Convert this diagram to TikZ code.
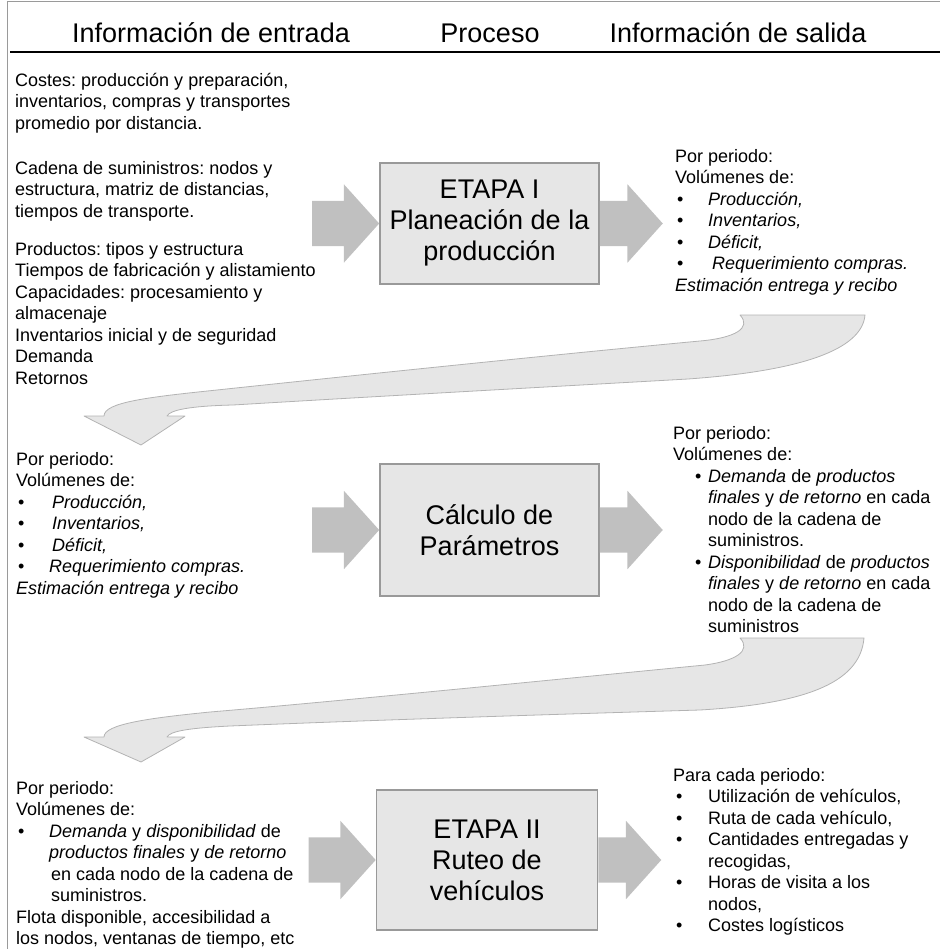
\documentclass[tikz,border=0pt]{standalone}
\usepackage{fontspec}
\setmainfont{Liberation Sans}
\usetikzlibrary{shapes.arrows}

\definecolor{boxfill}{HTML}{E6E6E6}
\definecolor{boxline}{HTML}{999999}
\definecolor{arrowfill}{HTML}{C0C0C0}
\definecolor{bendfill}{HTML}{E6E6E6}
\definecolor{bendline}{HTML}{B3B3B3}
\definecolor{framecol}{HTML}{9A9A9A}

\newcommand{\bodyfont}{\fontsize{18}{21.5}\selectfont\frenchspacing}
\newcommand{\bigfont}{\fontsize{27}{31}\selectfont}
% bullet with its own offset inside a fixed indent
\newcommand{\itm}[2]{\makebox[#2][l]{\hspace*{#1}•}}

\tikzset{
  hdr/.style={font=\bigfont, inner sep=0pt},
  stagebox/.style={draw=boxline, fill=boxfill, line width=1.1pt,
    align=center, font=\bigfont, inner sep=0pt},
  txt/.style={font=\bodyfont, align=left, inner sep=0pt, anchor=north west,
    execute at begin node=\strut},
  blockarrow/.style={shape=single arrow, fill=arrowfill, draw=none,
    single arrow head extend=16.5pt, single arrow tip angle=96,
    text height=22.5pt, text depth=22.5pt, text width=0pt,
    minimum width=78pt, inner sep=0pt},
  inarrow/.style={blockarrow, minimum height=67pt, anchor=tip},
  outarrow/.style={blockarrow, minimum height=63pt, anchor=tail},
  bandarrow/.style={fill=bendfill, draw=bendline, line width=0.8pt, line join=round}
}

\begin{document}
\begin{tikzpicture}[x=1pt, y=-1pt]
\useasboundingbox (0,0) rectangle (940,949);
\clip (0,0) rectangle (940,949);

% outer frame and header rule
\draw[framecol, line width=1pt] (7,949) -- (7,2) -- (940,2);
\draw[black, line width=1.3pt] (10,52) -- (940,52);

% column headings
\node[hdr] (hin)  at (211,33) {Información de entrada};
\node[hdr] (hpro) at (490,33) {Proceso};
\node[hdr] (hout) at (738,33) {Información de salida};

% process boxes
\node[stagebox, minimum width=219pt, minimum height=121pt] (b1) at (489.5,223.5)
  {ETAPA I\\Planeación de la\\producción};
\node[stagebox, minimum width=219pt, minimum height=132pt] (b2) at (489.5,530)
  {Cálculo de\\Parámetros};
\node[stagebox, minimum width=221pt, minimum height=140pt] (b3) at (487,860)
  {ETAPA II\\Ruteo de\\vehículos};

% block arrows into and out of each box
\node[inarrow]  (a1in)  at (b1.west) {};
\node[outarrow] (a1out) at (b1.east) {};
\node[inarrow]  (a2in)  at (b2.west) {};
\node[outarrow] (a2out) at (b2.east) {};
\node[inarrow]  (a3in)  at (b3.west) {};
\node[outarrow] (a3out) at (b3.east) {};

% stage I inputs
\node[txt] (in1a) at (15,73)
  {Costes: producción y preparación,\\
   inventarios, compras y transportes\\
   promedio por distancia.};
\node[txt] (in1b) at (15,161)
  {Cadena de suministros: nodos y\\
   estructura, matriz de distancias,\\
   tiempos de transporte.};
\node[txt] (in1c) at (15,242)
  {Productos: tipos y estructura\\
   Tiempos de fabricación y alistamiento\\
   Capacidades: procesamiento y\\
   almacenaje\\
   Inventarios inicial y de seguridad\\
   Demanda\\
   Retornos};

% stage I outputs
\node[txt] (out1) at (675,149)
  {Por periodo:\\
   Volúmenes de:\\
   \itm{2pt}{33pt}\textit{Producción,}\\
   \itm{2pt}{33pt}\textit{Inventarios,}\\
   \itm{2pt}{33pt}\textit{Déficit,}\\
   \itm{2pt}{37pt}\textit{Requerimiento compras.}\\
   \textit{Estimación entrega y recibo}};

% parameter step inputs
\node[txt] (in2) at (16,452)
  {Por periodo:\\
   Volúmenes de:\\
   \itm{2pt}{36pt}\textit{Producción,}\\
   \itm{2pt}{36pt}\textit{Inventarios,}\\
   \itm{2pt}{36pt}\textit{Déficit,}\\
   \itm{2pt}{33pt}\textit{Requerimiento compras.}\\
   \textit{Estimación entrega y recibo}};

% parameter step outputs
\node[txt] (out2) at (673,426)
  {Por periodo:\\
   Volúmenes de:\\
   \itm{22pt}{35pt}\textit{Demanda} de \textit{productos}\\
   \hspace*{35pt}\textit{finales} y \textit{de retorno} en cada\\
   \hspace*{35pt}nodo de la cadena de\\
   \hspace*{35pt}suministros.\\
   \itm{22pt}{35pt}\textit{Disponibilidad} de \textit{productos}\\
   \hspace*{35pt}\textit{finales} y \textit{de retorno} en cada\\
   \hspace*{35pt}nodo de la cadena de\\
   \hspace*{35pt}suministros};

% stage II inputs
\node[txt] (in3) at (16,781)
  {Por periodo:\\
   Volúmenes de:\\
   \itm{2pt}{33pt}\textit{Demanda} y \textit{disponibilidad} de\\
   \hspace*{33pt}\textit{productos finales} y \textit{de retorno}\\
   \hspace*{35pt}en cada nodo de la cadena de\\
   \hspace*{35pt}suministros.\\
   Flota disponible, accesibilidad a\\
   los nodos, ventanas de tiempo, etc};

% stage II outputs
\node[txt] (out3) at (673,768)
  {Para cada periodo:\\
   \itm{3pt}{35pt}Utilización de vehículos,\\
   \itm{3pt}{35pt}Ruta de cada vehículo,\\
   \itm{3pt}{35pt}Cantidades entregadas y\\
   \hspace*{35pt}recogidas,\\
   \itm{3pt}{35pt}Horas de visita a los\\
   \hspace*{35pt}nodos,\\
   \itm{3pt}{35pt}Costes logísticos};

% curved arrow carrying stage I results down to the parameter step
\draw[bandarrow] (740,315) .. controls (752,328) and (735,338) .. (700,341)
  .. controls (550,355) and (330,378) .. (217,390)
  .. controls (150,397) and (104,402) .. (104,416)
  -- (84,416) -- (141,445) -- (185,416) -- (167,416)
  .. controls (170,410) and (190,406) .. (233,405)
  .. controls (400,395) and (600,384) .. (688,379)
  .. controls (800,371) and (862,350) .. (865,315) -- cycle;

% curved arrow carrying the parameters down to stage II
\draw[bandarrow] (740,638) .. controls (752,651) and (735,661) .. (705,665)
  .. controls (550,680) and (330,702) .. (210,712)
  .. controls (150,718) and (104,724) .. (104,737)
  -- (84,737) -- (141,762) -- (185,737) -- (167,737)
  .. controls (170,731) and (190,728) .. (230,726)
  .. controls (400,719) and (600,713) .. (700,710)
  .. controls (800,704) and (860,685) .. (864,638) -- cycle;
\end{tikzpicture}
\end{document}
